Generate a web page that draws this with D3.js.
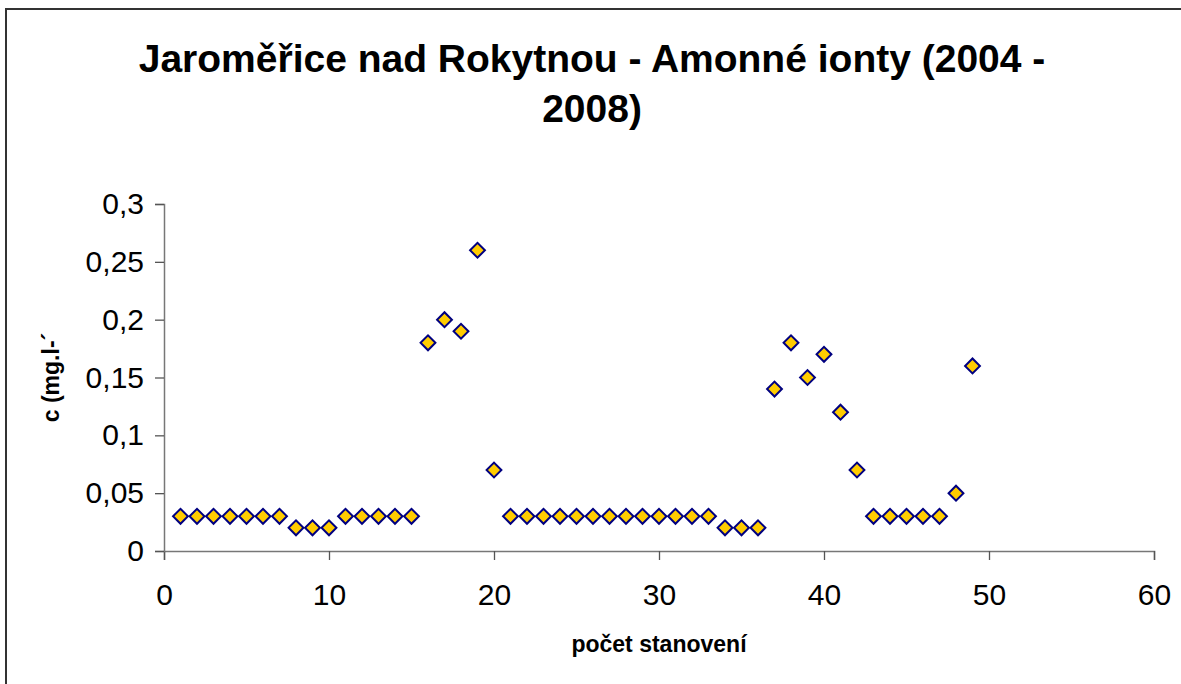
<!DOCTYPE html>
<html>
<head>
<meta charset="utf-8">
<script src="https://cdn.jsdelivr.net/npm/d3@7"></script>
<style>
  body { margin: 0; background: #fff; overflow: hidden; }
  svg { display: block; }
  text { font-family: "Liberation Sans", Arial, sans-serif; }
</style>
</head>
<body>
<div id="chart"></div>
<script>
// data
var titleLines = ["Jaroměřice nad Rokytnou - Amonné ionty (2004 -", "2008)"];
var xLabel = "počet stanovení";
var yLabel = "c (mg.l-´";

var sampleNo = [1,2,3,4,5,6,7,8,9,10,11,12,13,14,15,16,17,18,19,20,
                21,22,23,24,25,26,27,28,29,30,31,32,33,34,35,36,37,38,39,40,
                41,42,43,44,45,46,47,48,49];
var ammonium = [0.03,0.03,0.03,0.03,0.03,0.03,0.03,0.02,0.02,0.02,
                0.03,0.03,0.03,0.03,0.03,0.18,0.20,0.19,0.26,0.07,
                0.03,0.03,0.03,0.03,0.03,0.03,0.03,0.03,0.03,0.03,
                0.03,0.03,0.03,0.02,0.02,0.02,0.14,0.18,0.15,0.17,
                0.12,0.07,0.03,0.03,0.03,0.03,0.03,0.05,0.16];

var xTicks = [0,10,20,30,40,50,60];
var yTicks = [0,0.05,0.1,0.15,0.2,0.25,0.3];
var yTickLabels = ["0","0,05","0,1","0,15","0,2","0,25","0,3"];

var W = 1181, H = 684;
var margin = {top: 204, right: 27, bottom: 133, left: 164},
    width = W - margin.left - margin.right,
    height = H - margin.top - margin.bottom;

var svg = d3.select("#chart").append("svg")
    .attr("width", W)
    .attr("height", H);

// chart frame (right and bottom edges fall outside the picture)
svg.append("rect")
    .attr("x", 6).attr("y", 9)
    .attr("width", 1200).attr("height", 700)
    .style("fill", "#fff")
    .style("stroke", "#333")
    .style("stroke-width", 2);

// title
svg.append("text")
    .attr("text-anchor", "middle")
    .style("font-weight", "bold")
    .style("font-size", "39px")
    .selectAll("tspan")
    .data(titleLines)
    .enter().append("tspan")
      .attr("x", 592)
      .attr("y", function(d, i) { return 72 + i * 50; })
      .text(function(d) { return d; });

var g = svg.append("g")
    .attr("transform", "translate(" + margin.left + "," + margin.top + ")");

var x = d3.scaleLinear().domain([0, 60]).range([0, width]);
var y = d3.scaleLinear().domain([0, 0.3]).range([height, 0]);

// X axis
var xAxis = g.append("g")
    .attr("transform", "translate(0," + height + ")")
    .call(d3.axisBottom(x).tickValues(xTicks).tickSize(9).tickPadding(24)
      .tickFormat(d3.format("d")));

// Y axis
var yAxis = g.append("g")
    .call(d3.axisLeft(y).tickValues(yTicks).tickSize(9).tickPadding(11)
      .tickFormat(function(d, i) { return yTickLabels[i]; }));

[xAxis, yAxis].forEach(function(a) {
  a.select(".domain").style("stroke", "#777").style("stroke-width", 1.5);
  a.selectAll(".tick line").style("stroke", "#555").style("stroke-width", 1.3);
  a.selectAll(".tick text")
    .style("font-family", "Liberation Sans, Arial, sans-serif")
    .style("font-size", "30px")
    .style("fill", "#000");
});

// axis titles
svg.append("text")
    .attr("text-anchor", "middle")
    .attr("x", margin.left + width / 2)
    .attr("y", 652)
    .style("font-weight", "bold")
    .style("font-size", "23px")
    .text(xLabel);

svg.append("text")
    .attr("text-anchor", "middle")
    .attr("transform", "translate(59," + (margin.top + height / 2) + ")rotate(-90)")
    .style("font-weight", "bold")
    .style("font-size", "23px")
    .text(yLabel);

// points (diamonds)
var diamond = d3.symbol().type(d3.symbolSquare).size(110);
g.selectAll(".pt")
    .data(sampleNo)
    .enter().append("path")
      .attr("class", "pt")
      .attr("d", diamond)
      .attr("transform", function(d, i) {
        return "translate(" + x(d) + "," + y(ammonium[i]) + ")rotate(45)";
      })
      .style("fill", "#FFCC00")
      .style("stroke", "#000080")
      .style("stroke-width", 2);
</script>
</body>
</html>
